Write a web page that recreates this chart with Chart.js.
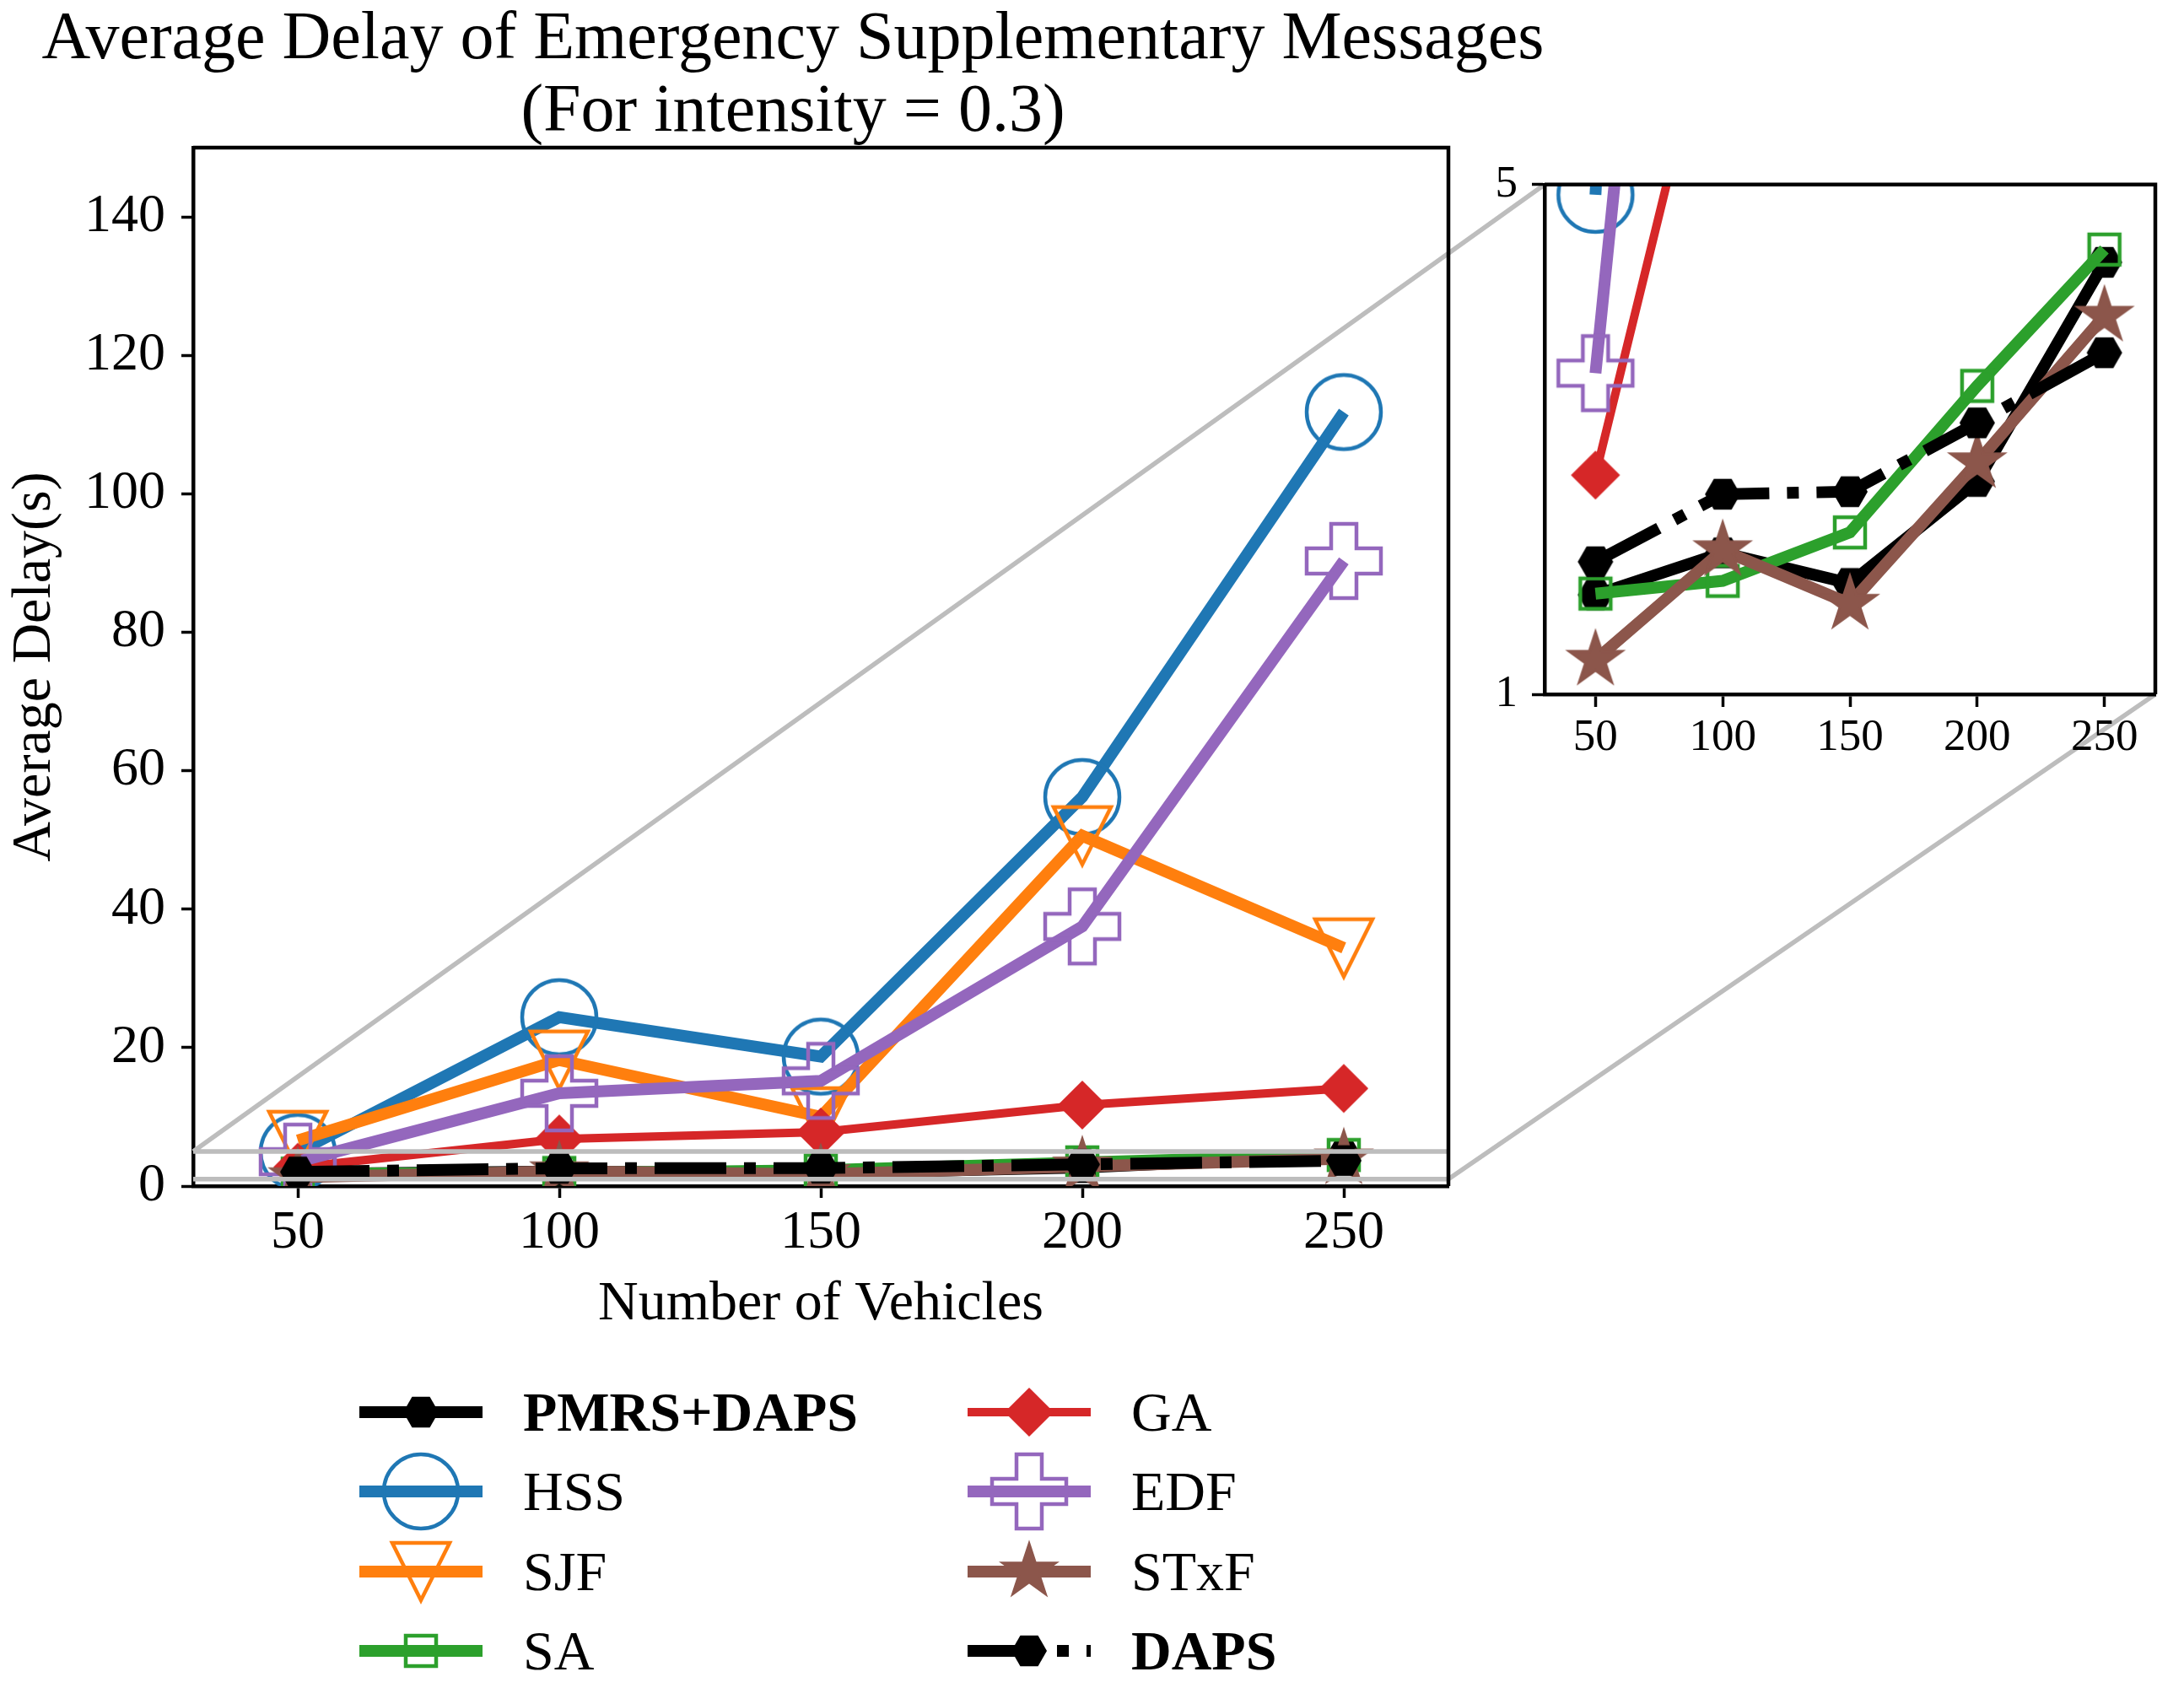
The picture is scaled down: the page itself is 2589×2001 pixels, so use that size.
<!DOCTYPE html>
<html>
<head>
<meta charset="utf-8">
<script src="https://cdn.jsdelivr.net/npm/chart.js@4.4.1/dist/chart.umd.min.js"></script>
<style>
html, body { margin: 0; padding: 0; background: #fff; overflow: hidden; }
#principal { position: absolute; left: 0; top: 0; width: 2589px; height: 2001px; }
#zoom { position: absolute; left: 1740px; top: 170px; width: 849px; height: 760px; }
</style>
</head>
<body>
<div id="principal"><canvas id="chartPrincipal"></canvas></div>
<div id="zoom"><canvas id="chartZoom"></canvas></div>
<script>
// datos
var vehiculos = [50, 100, 150, 200, 250];
var nombres = ['PMRS+DAPS', 'HSS', 'SJF', 'SA', 'GA', 'EDF', 'STxF', 'DAPS'];
var pmrsDaps = [1.78, 2.11, 1.87, 2.67, 4.39];
var hss = [4.92, 24.4, 18.7, 56.2, 111.8];
var sjf = [6.6, 18.2, 10.0, 50.6, 34.4];
var sa = [1.79, 1.89, 2.27, 3.42, 4.49];
var ga = [2.72, 6.8, 7.8, 11.7, 14.1];
var edf = [3.52, 13.4, 15.2, 37.5, 90.3];
var stxf = [1.27, 2.13, 1.71, 2.82, 3.97];
var daps = [2.04, 2.57, 2.59, 3.13, 3.68];
var ticksX = [50, 100, 150, 200, 250];
var ticksY = [0, 20, 40, 60, 80, 100, 120, 140];
var ticksZoomY = [1, 5];

var valores = [pmrsDaps, hss, sjf, sa, ga, edf, stxf, daps];
var colores = ['#000000', '#1f77b4', '#ff7f0e', '#2ca02c', '#d62728', '#9467bd', '#8c564b', '#000000'];
var grosores = [14, 14, 14, 14, 10, 14, 14, 14];
var negrita = [true, false, false, false, false, false, false, true];
var fuente = 'Liberation Serif';
var gris = '#bdbdbd';

function lienzo(lado, dibujar) {
    var c = document.createElement('canvas');
    c.width = lado; c.height = lado;
    var g = c.getContext('2d');
    g.translate(lado / 2, lado / 2);
    dibujar(g);
    return c;
}

function poligono(g, pts) {
    g.beginPath();
    g.moveTo(pts[0][0], pts[0][1]);
    for (var i = 1; i < pts.length; i++) g.lineTo(pts[i][0], pts[i][1]);
    g.closePath();
}

var marcadores = [
    lienzo(50, function (g) { // hexagono
        var pts = [];
        for (var k = 0; k < 6; k++) pts.push([21 * Math.cos(k * Math.PI / 3), 21 * Math.sin(k * Math.PI / 3)]);
        poligono(g, pts); g.fillStyle = '#000'; g.fill();
    }),
    lienzo(100, function (g) { // circulo
        g.beginPath(); g.arc(0, 0, 44, 0, Math.PI * 2);
        g.lineWidth = 4.5; g.strokeStyle = colores[1]; g.stroke();
    }),
    lienzo(84, function (g) { // triangulo abajo
        poligono(g, [[0, 34], [-34, -34], [34, -34]]);
        g.lineJoin = 'miter'; g.lineWidth = 4.5; g.strokeStyle = colores[2]; g.stroke();
    }),
    lienzo(50, function (g) { // cuadrado
        g.lineWidth = 4.5; g.strokeStyle = colores[3]; g.strokeRect(-18, -18, 36, 36);
    }),
    lienzo(64, function (g) { // diamante
        poligono(g, [[0, -27], [27, 0], [0, 27], [-27, 0]]);
        g.fillStyle = colores[4]; g.fill();
        g.lineWidth = 3; g.strokeStyle = colores[4]; g.stroke();
    }),
    lienzo(100, function (g) { // cruz
        var a = 15, b = 44;
        poligono(g, [[-a, -b], [a, -b], [a, -a], [b, -a], [b, a], [a, a], [a, b], [-a, b], [-a, a], [-b, a], [-b, -a], [-a, -a]]);
        g.lineWidth = 4.5; g.strokeStyle = colores[5]; g.stroke();
    }),
    lienzo(80, function (g) { // estrella
        var pts = [];
        for (var k = 0; k < 10; k++) {
            var r = k % 2 ? 33 * 0.381966 : 33;
            var ang = -Math.PI / 2 + k * Math.PI / 5;
            pts.push([r * Math.cos(ang), r * Math.sin(ang)]);
        }
        poligono(g, pts);
        g.fillStyle = colores[6]; g.fill();
        g.lineWidth = 3; g.strokeStyle = colores[6]; g.stroke();
    }),
    null
];
marcadores[7] = marcadores[0];
var trazos = [[], [], [], [], [], [], [], [85, 21, 14, 21]];

function crearDatasets() {
    return nombres.map(function (nombre, i) {
        return {
            label: nombre,
            data: vehiculos.map(function (v, j) { return { x: v, y: valores[i][j] }; }),
            borderColor: colores[i],
            borderWidth: grosores[i],
            borderDash: trazos[i],
            borderCapStyle: 'butt',
            pointStyle: marcadores[i],
            pointRadius: 20,
            tension: 0,
            fill: false,
            clip: 0,
            order: nombres.length - i
        };
    });
}

function ejes(cfg) {
    return {
        x: {
            type: 'linear', min: 30, max: 270,
            afterBuildTicks: function (s) { s.ticks = ticksX.map(function (v) { return { value: v }; }); },
            afterFit: function (s) { s.height = cfg.altoX; },
            grid: { drawOnChartArea: false, drawTicks: true, tickLength: cfg.tick, tickWidth: 3.5, tickColor: '#000' },
            border: { display: true, color: '#000', width: 4.5 },
            ticks: { color: '#000', font: { family: fuente, size: cfg.letra }, padding: cfg.padX, maxRotation: 0, autoSkip: false },
            title: cfg.tituloX ? { display: true, text: cfg.tituloX, color: '#000', font: { family: fuente, size: 66 }, padding: 0 } : { display: false }
        },
        y: {
            type: 'linear', min: cfg.minY, max: cfg.maxY,
            afterBuildTicks: function (s) { s.ticks = cfg.ticksY.map(function (v) { return { value: v }; }); },
            afterFit: function (s) { s.width = cfg.anchoY; },
            grid: { drawOnChartArea: false, drawTicks: true, tickLength: cfg.tick, tickWidth: 3.5, tickColor: '#000' },
            border: { display: true, color: '#000', width: 4.5 },
            ticks: { color: '#000', font: { family: fuente, size: cfg.letra }, padding: cfg.padY, autoSkip: false },
            title: cfg.tituloY ? { display: true, text: cfg.tituloY, color: '#000', font: { family: fuente, size: 66 }, padding: { top: 2, bottom: 0 } } : { display: false }
        }
    };
}

var marco = {
    id: 'marco',
    afterDraw: function (chart) {
        var a = chart.chartArea, ctx = chart.ctx;
        ctx.save();
        ctx.strokeStyle = '#000'; ctx.lineWidth = 4.5;
        ctx.beginPath();
        ctx.moveTo(a.left, a.top); ctx.lineTo(a.right, a.top); ctx.lineTo(a.right, a.bottom);
        ctx.stroke();
        ctx.restore();
    }
};

var zoomChart = new Chart(document.getElementById('chartZoom'), {
    type: 'line',
    data: { datasets: crearDatasets() },
    options: {
        responsive: true, maintainAspectRatio: false, animation: false, devicePixelRatio: 1,
        layout: { padding: { left: 0, top: 38, right: 12, bottom: 0 } },
        plugins: { legend: { display: false }, tooltip: { enabled: false } },
        scales: ejes({ altoX: 107, anchoY: 91, tick: 15, letra: 53, padX: 5, padY: 17, minY: 1, maxY: 5, ticksY: ticksZoomY })
    },
    plugins: [marco]
});

var extras = {
    id: 'extras',
    afterDatasetsDraw: function (chart) {
        var ctx = chart.ctx, sx = chart.scales.x, sy = chart.scales.y;
        var z = zoomChart.chartArea;
        var zl = 1740 + z.left, zr = 1740 + z.right, zt = 170 + z.top, zb = 170 + z.bottom;
        ctx.save();
        ctx.strokeStyle = gris; ctx.lineWidth = 5.5;
        ctx.beginPath();
        ctx.moveTo(sx.getPixelForValue(30), sy.getPixelForValue(5)); ctx.lineTo(sx.getPixelForValue(270), sy.getPixelForValue(5));
        ctx.moveTo(sx.getPixelForValue(30), sy.getPixelForValue(1)); ctx.lineTo(sx.getPixelForValue(270), sy.getPixelForValue(1));
        ctx.moveTo(sx.getPixelForValue(30), sy.getPixelForValue(5)); ctx.lineTo(zl, zt);
        ctx.moveTo(sx.getPixelForValue(270), sy.getPixelForValue(1)); ctx.lineTo(zr, zb);
        ctx.stroke();
        ctx.restore();
    },
    afterDraw: function (chart) {
        var ctx = chart.ctx;
        ctx.save();
        ctx.fillStyle = '#000';
        ctx.textAlign = 'center'; ctx.textBaseline = 'alphabetic';
        ctx.font = '80px "' + fuente + '"';
        ctx.fillText('Average Delay of Emergency Supplementary Messages', 940, 69);
        ctx.fillText('(For intensity = 0.3)', 940, 155);

        // leyenda en dos columnas
        var filas = [1674, 1768, 1863, 1957];
        var colX = [426, 1147], textoX = [620, 1341], largo = 146;
        nombres.forEach(function (nombre, i) {
            var col = Math.floor(i / 4), y = filas[i % 4], x0 = colX[col];
            ctx.strokeStyle = colores[i]; ctx.lineWidth = grosores[i]; ctx.lineCap = 'butt';
            ctx.setLineDash(trazos[i]);
            ctx.beginPath(); ctx.moveTo(x0, y); ctx.lineTo(x0 + largo, y); ctx.stroke();
            ctx.setLineDash([]);
            var m = marcadores[i];
            ctx.drawImage(m, x0 + largo / 2 - m.width / 2, y - m.height / 2);
            ctx.fillStyle = '#000'; ctx.textAlign = 'left';
            ctx.font = (negrita[i] ? 'bold ' : '') + '66px "' + fuente + '"';
            ctx.fillText(nombre, textoX[col], y + 22);
        });
        ctx.restore();
    }
};

new Chart(document.getElementById('chartPrincipal'), {
    type: 'line',
    data: { datasets: crearDatasets() },
    options: {
        responsive: true, maintainAspectRatio: false, animation: false, devicePixelRatio: 1,
        layout: { padding: { left: 0, top: 175, right: 872, bottom: 415 } },
        plugins: { legend: { display: false }, tooltip: { enabled: false } },
        scales: ejes({ altoX: 180, anchoY: 229, tick: 14, letra: 64, padX: 4, padY: 19, minY: 0, maxY: 150, ticksY: ticksY,
            tituloX: 'Number of Vehicles', tituloY: 'Average Delay(s)' })
    },
    plugins: [marco, extras]
});
</script>
</body>
</html>
